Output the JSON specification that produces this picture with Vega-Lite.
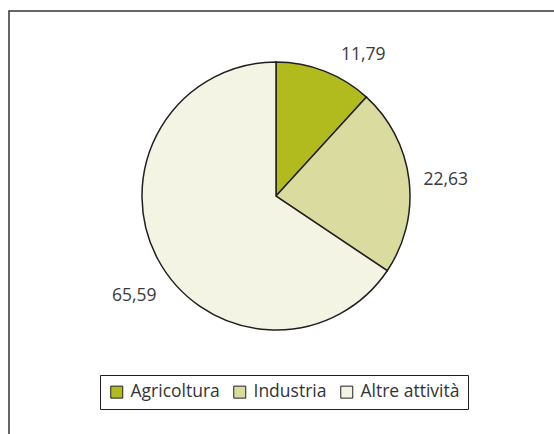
{
  "$schema": "https://vega.github.io/schema/vega-lite/v6.json",
  "width": 560,
  "height": 440,
  "autosize": {"type": "none"},
  "padding": {"left": 9, "top": 11, "right": 0, "bottom": 0},
  "background": "#ffffff",
  "config": {
    "view": {"stroke": null},
    "locale": {"number": {"decimal": ",", "thousands": ".", "grouping": [3], "currency": ["€", ""]}},
    "font": "Open Sans"
  },
  "data": {
    "values": [
      {"categoria": "Agricoltura", "valore": 11.79, "ordine": 1},
      {"categoria": "Industria", "valore": 22.63, "ordine": 2},
      {"categoria": "Altre attività", "valore": 65.59, "ordine": 3}
    ]
  },
  "layer": [
    {
      "data": {"values": [{"cornice": 1}]},
      "mark": {"type": "rect", "x": 0, "y": 0, "x2": {"expr": "width"}, "y2": {"expr": "height"}, "fill": null, "stroke": "#333333", "strokeWidth": 1.5},
      "encoding": {}
    },
    {
      "mark": {"type": "arc", "outerRadius": 134, "x": 267, "y": 185, "stroke": "#231F20", "strokeWidth": 1.5},
      "encoding": {
        "theta": {"field": "valore", "type": "quantitative", "stack": true},
        "order": {"field": "ordine", "type": "quantitative"},
        "color": {
          "field": "categoria",
          "type": "nominal",
          "sort": ["Agricoltura", "Industria", "Altre attività"],
          "scale": {"domain": ["Agricoltura", "Industria", "Altre attività"], "range": ["#B2BB1E", "#D9DC9E", "#F4F4E4"]},
          "legend": {
            "title": null,
            "orient": "none",
            "direction": "horizontal",
            "legendX": 91,
            "legendY": 364,
            "strokeColor": "#231F20",
            "padding": 8,
            "symbolType": "square",
            "symbolSize": 144,
            "symbolStrokeColor": "#231F20",
            "symbolStrokeWidth": 1,
            "symbolOpacity": 1,
            "labelFontSize": 17.5,
            "labelColor": "#333333",
            "labelFont": "Open Sans",
            "labelOffset": 5,
            "columnPadding": 11
          }
        }
      }
    },
    {
      "mark": {"type": "text", "radius": 172, "x": 267, "y": 185, "dx": 25, "dy": 19, "fontSize": 17.5, "color": "#3a3a3a", "font": "Open Sans"},
      "encoding": {
        "theta": {"field": "valore", "type": "quantitative", "stack": true},
        "order": {"field": "ordine", "type": "quantitative"},
        "text": {"condition": {"test": "datum.categoria === 'Agricoltura'", "field": "valore", "type": "quantitative", "format": ".2f"}, "value": ""}
      }
    },
    {
      "mark": {"type": "text", "radius": 172, "x": 267, "y": 185, "dx": -1, "dy": 4, "fontSize": 17.5, "color": "#3a3a3a", "font": "Open Sans"},
      "encoding": {
        "theta": {"field": "valore", "type": "quantitative", "stack": true},
        "order": {"field": "ordine", "type": "quantitative"},
        "text": {"condition": {"test": "datum.categoria === 'Industria'", "field": "valore", "type": "quantitative", "format": ".2f"}, "value": ""}
      }
    },
    {
      "mark": {"type": "text", "radius": 172, "x": 267, "y": 185, "dx": 10, "dy": 19, "fontSize": 17.5, "color": "#3a3a3a", "font": "Open Sans"},
      "encoding": {
        "theta": {"field": "valore", "type": "quantitative", "stack": true},
        "order": {"field": "ordine", "type": "quantitative"},
        "text": {"condition": {"test": "datum.categoria === 'Altre attività'", "field": "valore", "type": "quantitative", "format": ".2f"}, "value": ""}
      }
    }
  ]
}
